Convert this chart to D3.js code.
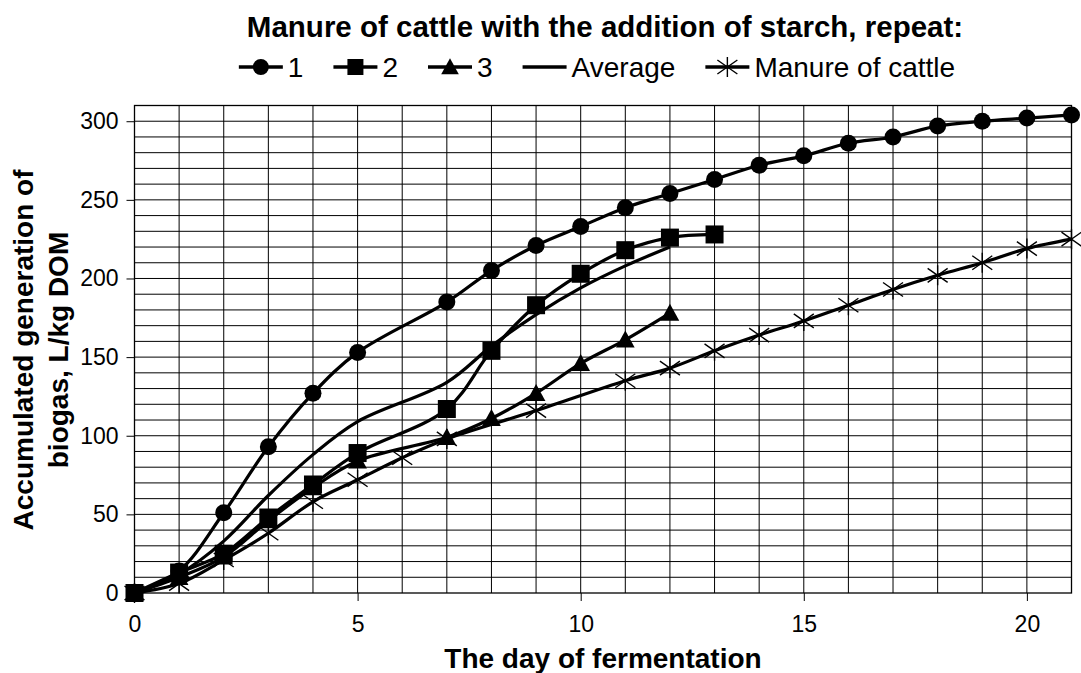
<!DOCTYPE html>
<html>
<head>
<meta charset="utf-8">
<script src="https://cdn.jsdelivr.net/npm/d3@7.9.0/dist/d3.min.js"></script>
<style>
  body { margin: 0; background: #fff; }
  svg { font-family: "Liberation Sans", Arial, sans-serif; }
</style>
</head>
<body>
<svg id="chart" width="1081" height="673"></svg>
<script>
// ---- data ----
const days1 = [0, 1, 2, 3, 4, 5, 7, 8, 9, 10, 11, 12, 13, 14, 15, 16, 17, 18, 19, 20, 21];
const rep1 = [0, 14, 51, 93, 127, 153, 185, 205, 221, 233, 245, 254, 263, 272, 278, 286, 290, 297, 300, 302, 304];

const days2 = [0, 1, 2, 3, 4, 5, 7, 8, 9, 10, 11, 12, 13];
const rep2 = [0, 13, 25, 48, 69, 89, 117, 154, 183, 203, 218, 226, 228];

const days3 = [0, 1, 2, 3, 4, 5, 7, 8, 9, 10, 11, 12];
const rep3 = [0, 10, 23, 46, 67, 84, 99, 111, 127, 146, 161, 178];

const daysAvg = [0, 1, 2, 3, 4, 5, 7, 8, 9, 10, 11, 12];
const average = [0, 12, 33, 62, 88, 109, 134, 157, 177, 194, 208, 220];

const daysManure = [0, 1, 2, 3, 4, 5, 6, 7, 9, 11, 12, 13, 14, 15, 16, 17, 18, 19, 20, 21];
const manure = [0, 6, 21, 38, 58, 72, 86, 98, 116, 135, 143, 154, 164, 173, 183, 193, 202, 210, 219, 225];

const xTicks = [0, 5, 10, 15, 20];
const yTicks = [0, 50, 100, 150, 200, 250, 300];

const titleText = "Manure of cattle with the addition of starch, repeat:";
const xTitle = "The day of fermentation";
const yTitle = ["Accumulated generation of", "biogas, L/kg DOM"];

const series = [
  { name: "Manure of cattle", days: daysManure, vals: manure, marker: "star" },
  { name: "Average", days: daysAvg, vals: average, marker: "none" },
  { name: "3", days: days3, vals: rep3, marker: "triangle" },
  { name: "2", days: days2, vals: rep2, marker: "square" },
  { name: "1", days: days1, vals: rep1, marker: "circle" },
];
const legendOrder = ["1", "2", "3", "Average", "Manure of cattle"];

// ---- layout ----
const svg = d3.select("#chart");
const plot = { left: 134.5, right: 1071.5, top: 105.5, bottom: 593 };

const x = d3.scaleLinear().domain([0, 21]).range([plot.left, plot.right]);
const y = d3.scaleLinear().domain([0, 310]).range([plot.bottom, plot.top]);

// grid
const g = svg.append("g");
g.selectAll("line.vg")
  .data(d3.range(1, 21))
  .join("line")
  .attr("x1", (d) => x(d)).attr("x2", (d) => x(d))
  .attr("y1", plot.top).attr("y2", plot.bottom)
  .attr("stroke", "#000").attr("stroke-width", 1);
g.selectAll("line.hg")
  .data(d3.range(10, 310, 10))
  .join("line")
  .attr("x1", plot.left).attr("x2", plot.right)
  .attr("y1", (d) => y(d)).attr("y2", (d) => y(d))
  .attr("stroke", "#000").attr("stroke-width", 1);

g.append("rect")
  .attr("x", plot.left).attr("y", plot.top)
  .attr("width", plot.right - plot.left).attr("height", plot.bottom - plot.top)
  .attr("fill", "none").attr("stroke", "#000").attr("stroke-width", 1.3);

// axes
const xAxis = d3.axisBottom(x).tickValues(xTicks).tickSize(8).tickPadding(15);
const yAxis = d3.axisLeft(y).tickValues(yTicks).tickSize(8).tickPadding(8);

const gx = svg.append("g").attr("transform", `translate(0,${plot.bottom})`).call(xAxis);
const gy = svg.append("g").attr("transform", `translate(${plot.left},0)`).call(yAxis);
[gx, gy].forEach((a) => {
  a.select(".domain").remove();
  a.selectAll("line").attr("stroke", "#000").attr("stroke-width", 1);
  a.selectAll("text")
    .attr("fill", "#000")
    .style("font-size", "23px")
    .style("font-family", "'Liberation Sans', Arial, sans-serif");
});

// lines
const line = d3.line()
  .x((d) => x(d[0]))
  .y((d) => y(d[1]))
  .curve(d3.curveCatmullRom.alpha(0.5));

series.forEach((s) => {
  const pts = s.days.map((d, i) => [d, s.vals[i]]);
  svg.append("path")
    .datum(pts)
    .attr("d", line)
    .attr("fill", "none")
    .attr("stroke", "#000")
    .attr("stroke-width", 3.2);
});

// markers
function drawMarker(sel, type, cx, cy, size) {
  if (type === "circle") {
    sel.append("circle").attr("cx", cx).attr("cy", cy).attr("r", size * 0.5).attr("fill", "#000");
  } else if (type === "square") {
    sel.append("rect")
      .attr("x", cx - size * 0.5).attr("y", cy - size * 0.5)
      .attr("width", size).attr("height", size).attr("fill", "#000");
  } else if (type === "triangle") {
    const h = size;
    sel.append("path")
      .attr("d", `M${cx},${cy - h * 0.55}L${cx + h * 0.55},${cy + h * 0.45}L${cx - h * 0.55},${cy + h * 0.45}Z`)
      .attr("fill", "#000");
  } else if (type === "star") {
    const r = size * 0.5;
    sel.append("path")
      .attr("d", `M${cx - r},${cy - r * 0.7}L${cx + r},${cy + r * 0.7}M${cx - r},${cy + r * 0.7}L${cx + r},${cy - r * 0.7}M${cx},${cy - r}L${cx},${cy + r}`)
      .attr("fill", "none").attr("stroke", "#000").attr("stroke-width", 1.4);
  }
}

const markerSize = { circle: 17, square: 18, triangle: 17, star: 20 };
series.forEach((s) => {
  if (s.marker === "none") return;
  const mg = svg.append("g");
  s.days.forEach((d, i) => drawMarker(mg, s.marker, x(d), y(s.vals[i]), markerSize[s.marker]));
});

// title
svg.append("text")
  .attr("x", 605).attr("y", 37)
  .attr("text-anchor", "middle")
  .style("font-size", "29.5px").style("font-weight", "bold")
  .text(titleText);

// legend
const leg = svg.append("g");
let lx = 0;
const legY = 67;
const symW = 44, symGap = 5, itemGap = 30;
legendOrder.forEach((name) => {
  const s = series.find((d) => d.name === name);
  const item = leg.append("g").attr("transform", `translate(${lx},0)`);
  item.append("line")
    .attr("x1", 0).attr("x2", symW)
    .attr("y1", legY).attr("y2", legY)
    .attr("stroke", "#000").attr("stroke-width", 3.5);
  if (s.marker !== "none") drawMarker(item, s.marker, symW / 2, legY, s.marker === "star" ? 20 : 16);
  const t = item.append("text")
    .attr("x", symW + symGap).attr("y", legY + 10)
    .style("font-size", "28px")
    .text(name);
  lx += symW + symGap + t.node().getComputedTextLength() + itemGap;
});
const legW = lx - itemGap;
leg.attr("transform", `translate(${597 - legW / 2},0)`);

// axis titles
svg.append("text")
  .attr("x", (plot.left + plot.right) / 2).attr("y", 668)
  .attr("text-anchor", "middle")
  .style("font-size", "28px").style("font-weight", "bold")
  .text(xTitle);

const yt = svg.append("text")
  .attr("transform", `translate(0,350) rotate(-90)`)
  .attr("text-anchor", "middle")
  .style("font-size", "28px").style("font-weight", "bold");
yt.append("tspan").attr("x", 0).attr("y", 33).text(yTitle[0]);
yt.append("tspan").attr("x", 0).attr("y", 68).text(yTitle[1]);
</script>
</body>
</html>
